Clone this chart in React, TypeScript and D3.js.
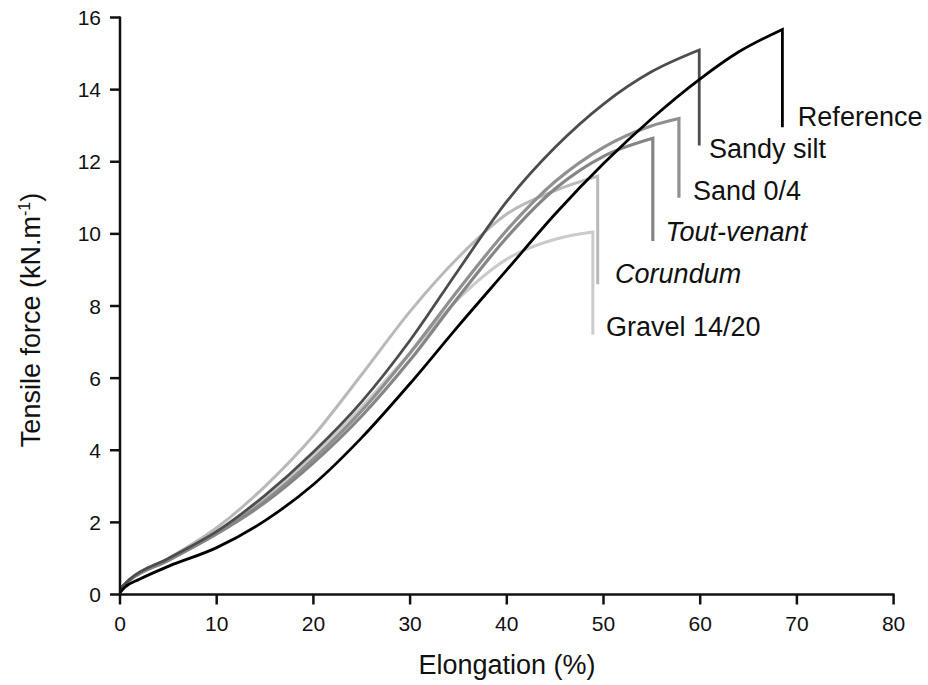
import React from "react";
import * as d3 from "d3";

// ---- data ----
const seriesNames = ["Gravel 14/20", "Corundum", "Sand 0/4", "Tout-venant", "Sandy silt", "Reference"];

const gravelX = [0, 1, 5, 10, 15, 20, 25, 30, 35, 40, 45, 48.9];
const gravelY = [0.15, 0.4, 0.95, 1.7, 2.65, 3.85, 5.2, 6.7, 8.2, 9.3, 9.85, 10.05];
const gravelFail = 7.2;

const corundumX = [0, 1, 5, 10, 15, 20, 25, 30, 35, 40, 45, 49.4];
const corundumY = [0.15, 0.42, 1.0, 1.85, 3.0, 4.4, 6.1, 7.85, 9.35, 10.55, 11.2, 11.6];
const corundumFail = 8.6;

const sandX = [0, 1, 5, 10, 15, 20, 25, 30, 35, 40, 45, 50, 55, 57.8];
const sandY = [0.15, 0.4, 0.95, 1.7, 2.6, 3.75, 5.1, 6.7, 8.45, 10.1, 11.45, 12.4, 13.0, 13.2];
const sandFail = 11.0;

const toutX = [0, 1, 5, 10, 15, 20, 25, 30, 35, 40, 45, 50, 55.1];
const toutY = [0.15, 0.4, 0.95, 1.68, 2.55, 3.65, 4.95, 6.5, 8.25, 9.9, 11.25, 12.15, 12.65];
const toutFail = 9.8;

const siltX = [0, 1, 5, 10, 15, 20, 25, 30, 35, 40, 45, 50, 55, 59.9];
const siltY = [0.15, 0.42, 1.0, 1.75, 2.75, 3.95, 5.35, 7.05, 9.0, 10.9, 12.4, 13.6, 14.5, 15.1];
const siltFail = 12.45;

const refX = [0, 0.5, 2, 5, 10, 15, 20, 25, 30, 35, 40, 45, 50, 55, 60, 64, 68.5];
const refY = [0.05, 0.2, 0.42, 0.78, 1.3, 2.05, 3.05, 4.35, 5.85, 7.45, 9.0, 10.55, 11.95, 13.2, 14.3, 15.05, 15.67];
const refFail = 12.96;

const xTicks = [0, 10, 20, 30, 40, 50, 60, 70, 80];
const yTicks = [0, 2, 4, 6, 8, 10, 12, 14, 16];

const seriesX = [gravelX, corundumX, sandX, toutX, siltX, refX];
const seriesY = [gravelY, corundumY, sandY, toutY, siltY, refY];
const seriesFail = [gravelFail, corundumFail, sandFail, toutFail, siltFail, refFail];
const seriesColor = ["#cbcbcb", "#b9b9b9", "#909090", "#858585", "#4d4d4d", "#000000"];
const seriesWidth = [3, 3, 3.2, 3.2, 2.8, 2.8];
const seriesItalic = [false, true, false, true, false, false];
// label baseline anchors in data units
const labelX = [50.25, 51.2, 59.25, 56.4, 60.9, 70.1];
const labelY = [7.18, 8.65, 10.95, 9.8, 12.1, 12.99];

export default function App() {
  const W = 928, H = 685;
  const x = d3.scaleLinear().domain([0, 80]).range([120, 893.6]);
  const y = d3.scaleLinear().domain([0, 16]).range([594.5, 17.5]);
  const line = d3
    .line<[number, number]>()
    .x((d) => x(d[0]))
    .y((d) => y(d[1]))
    .curve(d3.curveMonotoneX);

  const font = "'Liberation Sans', Arial, sans-serif";

  return (
    <svg width={W} height={H} style={{ position: "absolute", left: 0, top: 0, background: "#fff" }} fontFamily={font}>
      {seriesX.map((xs, i) => {
        const pts: [number, number][] = xs.map((v, j) => [v, seriesY[i][j]]);
        const last = xs[xs.length - 1];
        const d = (line(pts) || "") + ` L${x(last)},${y(seriesFail[i])}`;
        return (
          <path key={i} d={d} fill="none" stroke={seriesColor[i]} strokeWidth={seriesWidth[i]} strokeLinejoin="miter" />
        );
      })}
      {seriesNames.map((n, i) => (
        <text
          key={n}
          x={x(labelX[i])}
          y={y(labelY[i])}
          fontSize={27}
          fontStyle={seriesItalic[i] ? "italic" : "normal"}
          fill="#111"
        >
          {n}
        </text>
      ))}
      {/* axes */}
      <line x1={x(0)} x2={x(0)} y1={y(0) + 1} y2={y(16) - 1} stroke="#111" strokeWidth={2.5} />
      <line x1={x(0) - 1} x2={x(80) + 1} y1={y(0)} y2={y(0)} stroke="#111" strokeWidth={2.5} />
      {yTicks.map((t) => (
        <g key={"y" + t}>
          <line x1={x(0) - 10} x2={x(0)} y1={y(t)} y2={y(t)} stroke="#111" strokeWidth={2.5} />
          <text x={101} y={y(t) + 7.5} textAnchor="end" fontSize={21} fill="#111">
            {t}
          </text>
        </g>
      ))}
      {xTicks.map((t) => (
        <g key={"x" + t}>
          <line x1={x(t)} x2={x(t)} y1={y(0)} y2={y(0) + 10} stroke="#111" strokeWidth={2.5} />
          <text x={x(t)} y={631} textAnchor="middle" fontSize={21} fill="#111">
            {t}
          </text>
        </g>
      ))}
      <text x={507} y={674} textAnchor="middle" fontSize={27} fill="#111">
        Elongation (%)
      </text>
      <text transform={`translate(40,${320}) rotate(-90)`} textAnchor="middle" fontSize={27} fill="#111">
        Tensile force (kN.m
        <tspan dy={-10} fontSize={16}>-1</tspan>
        <tspan dy={10}>)</tspan>
      </text>
    </svg>
  );
}
